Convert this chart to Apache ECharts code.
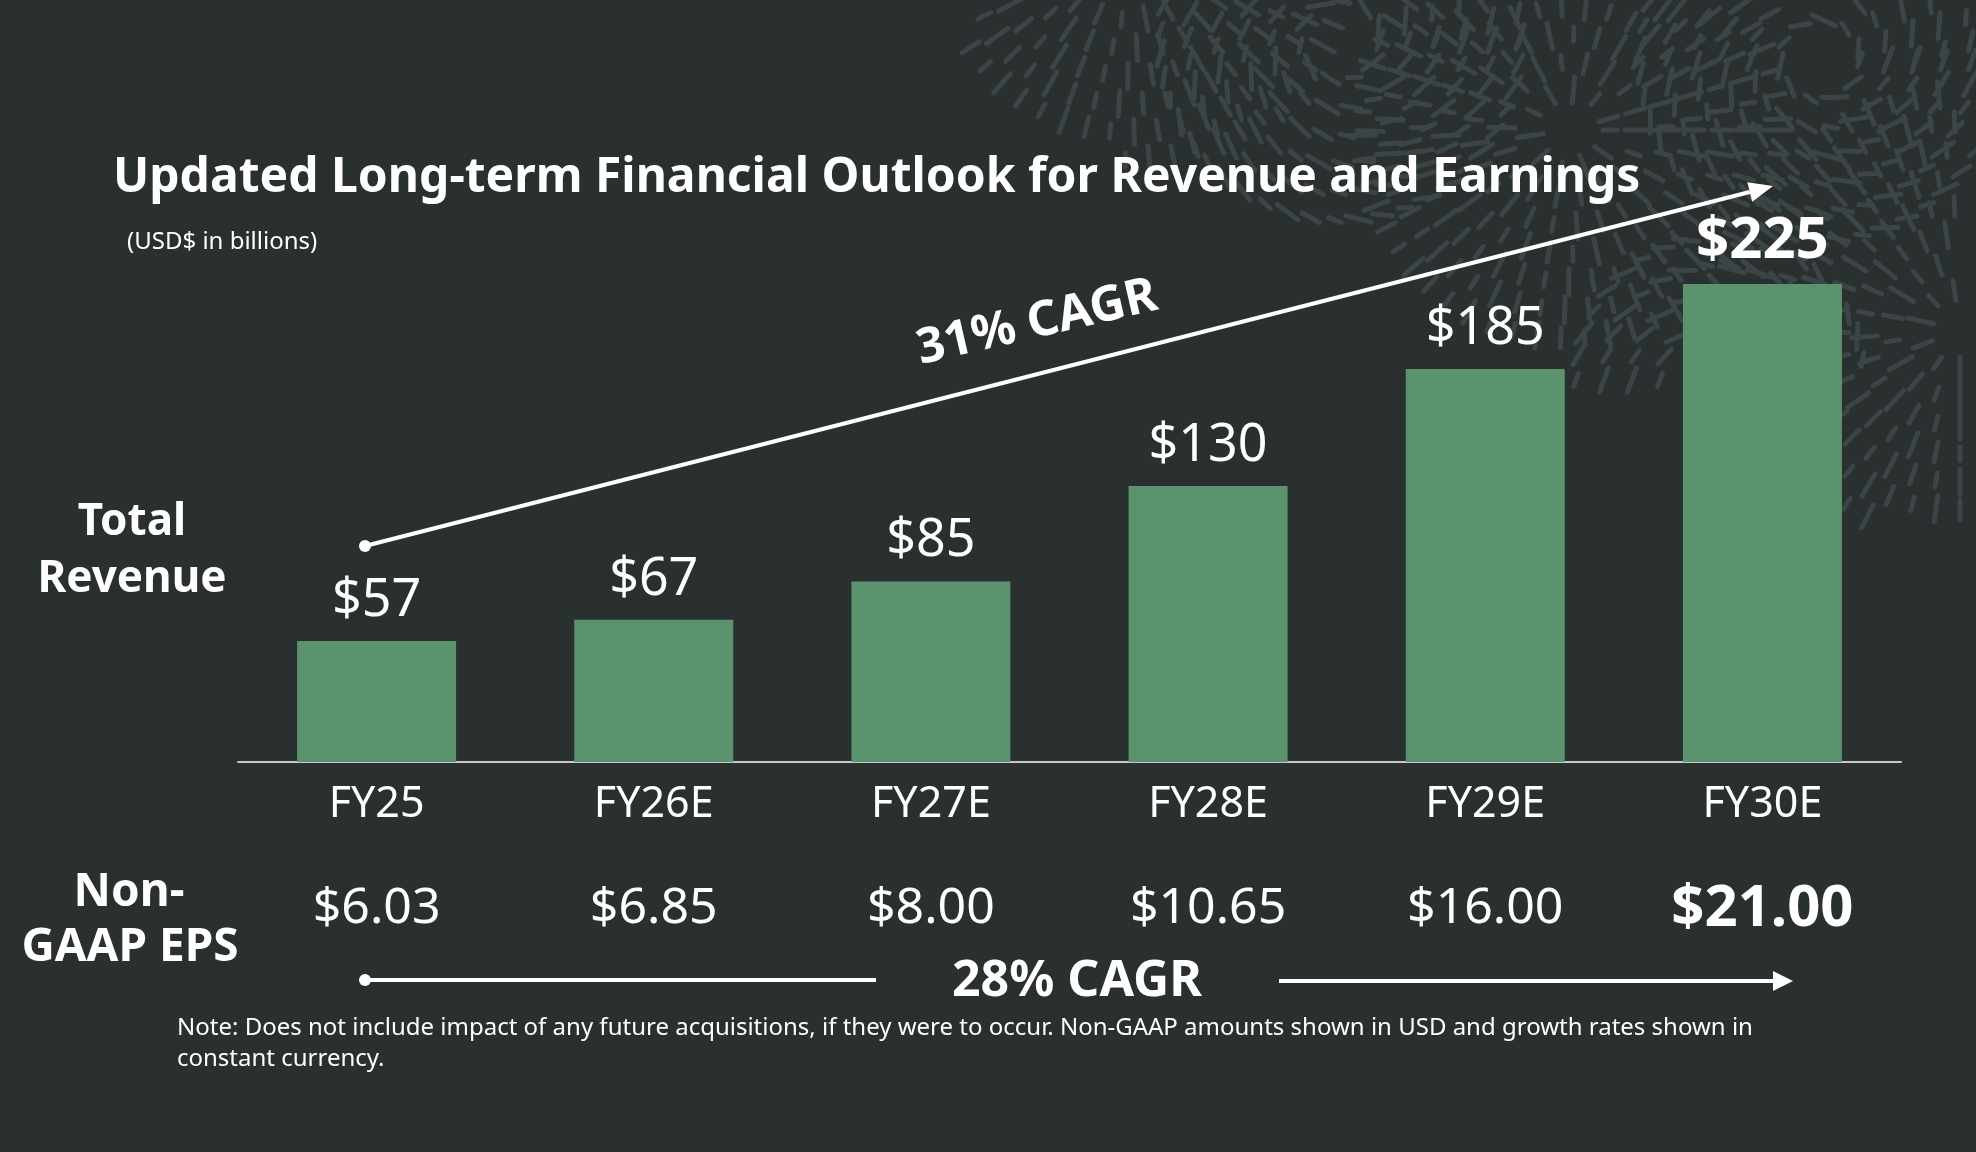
<!DOCTYPE html>
<html><head><meta charset="utf-8">
<script src="https://cdn.jsdelivr.net/npm/echarts@6/dist/echarts.min.js"></script>
<style>html,body{margin:0;padding:0;background:#2a2f30;} #c{width:1976px;height:1152px;}</style>
</head><body><div id="c"></div>
<script>
const categories = ['FY25', 'FY26E', 'FY27E', 'FY28E', 'FY29E', 'FY30E'];
const revenue = [57, 67, 85, 130, 185, 225];
const eps = ['6.03', '6.85', '8.00', '10.65', '16.00', '21.00'];
const revenueCagr = '31% CAGR';
const epsCagr = '28% CAGR';
const titleText = 'Updated Long-term Financial Outlook for Revenue and Earnings';
const subtitleText = '(USD$ in billions)';
const noteLines = ['Note: Does not include impact of any future acquisitions, if they were to occur. Non-GAAP amounts shown in USD and growth rates shown in', 'constant currency.'];

const FONT = '"Noto Sans", "Open Sans", sans-serif';
const WHITE = '#ffffff';
const last = categories.length - 1;

const chart = echarts.init(document.getElementById('c'), null, {renderer: 'canvas'});

function arrowHead(tx, ty, fx, fy, len, half) {
  const dx = tx - fx, dy = ty - fy, L = Math.hypot(dx, dy);
  const ux = dx / L, uy = dy / L;
  const bx = tx - ux * len, by = ty - uy * len;
  return [[tx, ty], [bx - uy * half, by + ux * half], [bx + uy * half, by - ux * half]];
}

// ---- decorative background texture (top-right) ----
const boundary = [[960, 60], [1100, 150], [1300, 250], [1500, 370], [1700, 480], [1976, 540]];
function limitY(x) {
  if (x <= boundary[0][0]) return boundary[0][1];
  for (let i = 1; i < boundary.length; i++) {
    if (x <= boundary[i][0]) {
      const [x0, y0] = boundary[i - 1], [x1, y1] = boundary[i];
      return y0 + (y1 - y0) * (x - x0) / (x1 - x0);
    }
  }
  return boundary[boundary.length - 1][1];
}
const fans = [
  {cx: 1130, cy: -60, r0: 80, r1: 230, a0: 10, a1: 170, radial: true},
  {cx: 1340, cy: 40, r0: 40, r1: 200, a0: 0, a1: 360, radial: false},
  {cx: 1570, cy: 130, r0: 40, r1: 230, a0: 0, a1: 360, radial: true},
  {cx: 1820, cy: 60, r0: 40, r1: 200, a0: 0, a1: 360, radial: false},
  {cx: 1960, cy: 330, r0: 40, r1: 240, a0: 90, a1: 270, radial: true},
  {cx: 1720, cy: 380, r0: 60, r1: 170, a0: 180, a1: 360, radial: false}
];
const texture = [];
let k = 0;
fans.forEach(f => {
  for (let r = f.r0; r <= f.r1; r += 28) {
    const step = 24 / r;
    for (let a = f.a0 * Math.PI / 180; a <= f.a1 * Math.PI / 180; a += step) {
      k++;
      const x = f.cx + r * Math.cos(a), y = f.cy + r * Math.sin(a);
      if (y < 0 || x < 960 || x > 1976 || y > limitY(x)) continue;
      const len = 14 + (k % 3) * 6;
      const ang = f.radial ? a : a + Math.PI / 2 + 0.35;
      const dx = Math.cos(ang) * len / 2, dy = Math.sin(ang) * len / 2;
      texture.push({type: 'line', silent: true, shape: {x1: x - dx, y1: y - dy, x2: x + dx, y2: y + dy},
        style: {stroke: '#3c4546', lineWidth: 5, lineCap: 'round'}});
    }
  }
});

const a1 = {x1: 365, y1: 546, x2: 1773, y2: 186};
const head1 = arrowHead(a1.x2, a1.y2, a1.x1, a1.y1, 24, 10);
const head2 = arrowHead(1793, 981, 1279, 981, 20, 10);

const graphics = [
  {type: 'group', z: -10, silent: true, children: texture},
  {type: 'text', x: 132, y: 522, style: {text: 'Total', fill: WHITE, font: 'bold 44px ' + FONT, textAlign: 'center', textVerticalAlign: 'middle'}},
  {type: 'text', x: 132, y: 579, style: {text: 'Revenue', fill: WHITE, font: 'bold 44px ' + FONT, textAlign: 'center', textVerticalAlign: 'middle'}},
  {type: 'text', x: 129, y: 893, style: {text: 'Non-', fill: WHITE, font: 'bold 46px ' + FONT, textAlign: 'center', textVerticalAlign: 'middle'}},
  {type: 'text', x: 130, y: 948, style: {text: 'GAAP EPS', fill: WHITE, font: 'bold 46px ' + FONT, textAlign: 'center', textVerticalAlign: 'middle'}},
  // revenue CAGR arrow
  {type: 'line', shape: {x1: a1.x1, y1: a1.y1, x2: (head1[1][0] + head1[2][0]) / 2, y2: (head1[1][1] + head1[2][1]) / 2}, style: {stroke: WHITE, lineWidth: 4}},
  {type: 'polygon', shape: {points: head1}, style: {fill: WHITE}},
  {type: 'circle', shape: {cx: a1.x1, cy: a1.y1, r: 6}, style: {fill: WHITE}},
  {type: 'text', x: 1037, y: 323, rotation: 13 * Math.PI / 180, style: {text: revenueCagr, fill: WHITE, font: 'bold 49px ' + FONT, textAlign: 'center', textVerticalAlign: 'middle'}},
  // EPS CAGR arrow
  {type: 'circle', shape: {cx: 365, cy: 980, r: 6}, style: {fill: WHITE}},
  {type: 'line', shape: {x1: 365, y1: 980, x2: 876, y2: 980}, style: {stroke: WHITE, lineWidth: 4}},
  {type: 'line', shape: {x1: 1279, y1: 981, x2: 1775, y2: 981}, style: {stroke: WHITE, lineWidth: 4}},
  {type: 'polygon', shape: {points: head2}, style: {fill: WHITE}},
  {type: 'text', x: 1077, y: 982, style: {text: epsCagr, fill: WHITE, font: 'bold 50px ' + FONT, textAlign: 'center', textVerticalAlign: 'middle'}},
  // note
  {type: 'text', x: 177, y: 1028, style: {text: noteLines[0], fill: WHITE, font: '24px ' + FONT, textAlign: 'left', textVerticalAlign: 'middle'}},
  {type: 'text', x: 177, y: 1059, style: {text: noteLines[1], fill: WHITE, font: '24px ' + FONT, textAlign: 'left', textVerticalAlign: 'middle'}}
];

chart.setOption({
  backgroundColor: '#2a2f30',
  animation: false,
  title: [
    {text: titleText, left: 113, top: 154, padding: 0, textStyle: {color: WHITE, fontFamily: FONT, fontWeight: 'bold', fontSize: 48, lineHeight: 48}},
    {text: subtitleText, left: 127, top: 230, padding: 0, textStyle: {color: WHITE, fontFamily: FONT, fontWeight: 'normal', fontSize: 24, lineHeight: 24}}
  ],
  grid: {left: 238, right: 75, top: 231, bottom: 390, containLabel: false},
  xAxis: [
    {
      type: 'category', data: categories, position: 'bottom',
      axisLine: {show: true, lineStyle: {color: '#c8c8c8', width: 2}},
      axisTick: {show: false},
      axisLabel: {interval: 0, color: WHITE, fontFamily: FONT, fontSize: 43, margin: 43, verticalAlign: 'middle'}
    },
    {
      type: 'category', data: categories, position: 'bottom',
      axisLine: {show: false}, axisTick: {show: false},
      axisLabel: {
        interval: 0, margin: 147, verticalAlign: 'middle',
        formatter: (v, i) => i === last ? '{b|$' + eps[i] + '}' : '{n|$' + eps[i] + '}',
        rich: {
          n: {color: WHITE, fontFamily: FONT, fontSize: 50},
          b: {color: WHITE, fontFamily: FONT, fontSize: 58, fontWeight: 'bold'}
        }
      }
    }
  ],
  yAxis: {type: 'value', min: 0, max: 250, show: false},
  series: [{
    type: 'bar',
    xAxisIndex: 0,
    barWidth: 159,
    itemStyle: {color: '#5a936d'},
    label: {show: true, position: 'top', distance: 14, color: WHITE, fontFamily: FONT, fontSize: 52, formatter: p => '$' + p.value},
    data: revenue.map((v, i) => i === last ? {value: v, label: {fontWeight: 'bold', fontSize: 58}} : v)
  }],
  graphic: graphics
});
</script>
</body></html>
